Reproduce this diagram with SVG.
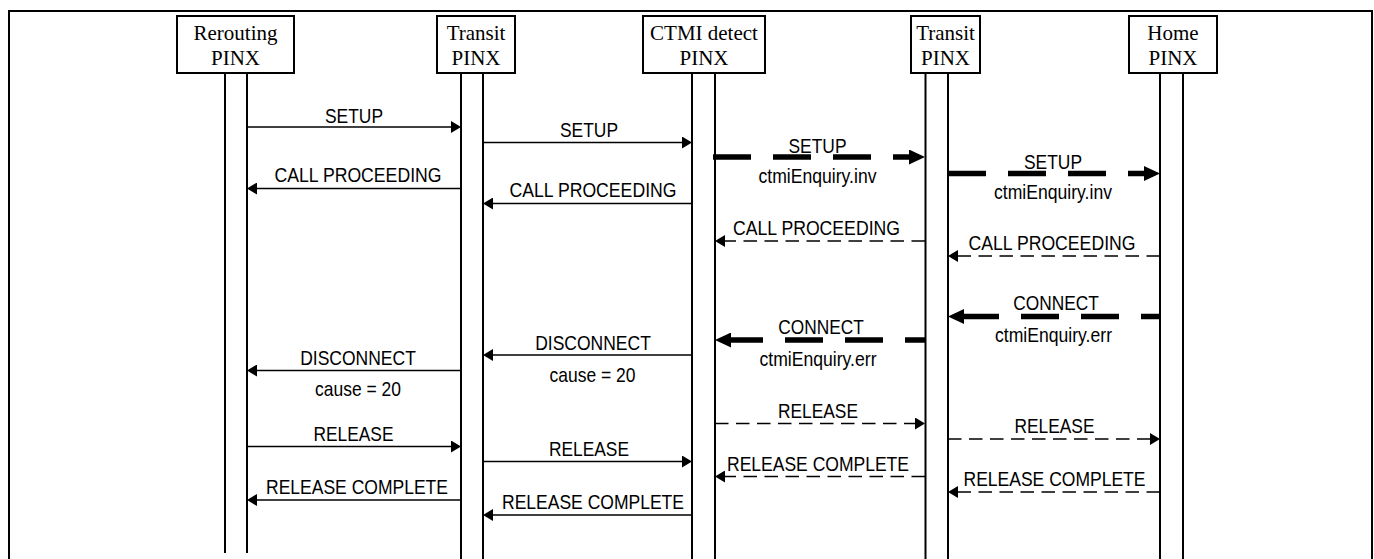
<svg xmlns="http://www.w3.org/2000/svg" width="1374" height="559" viewBox="0 0 1374 559">
<style>
.box{fill:#fff;stroke:#000;stroke-width:2}
.life{stroke:#000;stroke-width:2;fill:none}
.frame{stroke:#000;stroke-width:2;fill:none}
.nt{font-family:"Liberation Serif","Times New Roman",serif;font-size:21px;text-anchor:middle;fill:#000}
.ml{font-family:"Liberation Sans Narrow","Arial Narrow","Liberation Sans",Arial,sans-serif;font-size:21px;text-anchor:middle;fill:#000}
.msg{stroke:#000;stroke-width:1.5;fill:none;marker-end:url(#ah)}
.dsh{stroke-dasharray:13.5 7.5}
.thk{stroke:#000;stroke-width:5.5;fill:none;stroke-dasharray:38 22;marker-end:url(#ahT)}
</style>
<defs>
<marker id="ah" markerUnits="userSpaceOnUse" markerWidth="10" markerHeight="12" refX="0" refY="6" orient="auto" viewBox="0 0 10 12"><path d="M0,0 L10,6 L0,12 Z" fill="#000"/></marker>
<marker id="ahT" markerUnits="userSpaceOnUse" markerWidth="16" markerHeight="15" refX="0" refY="7.5" orient="auto" viewBox="0 0 16 15"><path d="M0,0 L16,7.5 L0,15 Z" fill="#000"/></marker>
</defs>
<rect width="1374" height="559" fill="#fff"/>
<g id="frame">
<path class="frame" d="M9,559 V11 H1372 V559"/>
</g>
<g id="node-rerouting">
<path class="life" d="M225,73 V553 M247,73 V553"/>
<rect class="box" x="177" y="16" width="117" height="57"/>
<text class="nt" x="235.5" y="40">Rerouting</text>
<text class="nt" x="235.5" y="65">PINX</text>
</g>
<g id="node-transit1">
<path class="life" d="M461,73 V559 M483,73 V559"/>
<rect class="box" x="437" y="16" width="78" height="57"/>
<text class="nt" x="476" y="40">Transit</text>
<text class="nt" x="476" y="65">PINX</text>
</g>
<g id="node-ctmi">
<path class="life" d="M692,73 V559 M715,73 V559"/>
<rect class="box" x="643" y="16" width="122" height="57"/>
<text class="nt" x="704" y="40">CTMI detect</text>
<text class="nt" x="704" y="65">PINX</text>
</g>
<g id="node-transit2">
<path class="life" d="M925.5,73 V559 M948,73 V559"/>
<rect class="box" x="911" y="16" width="69" height="57"/>
<text class="nt" x="945.5" y="40">Transit</text>
<text class="nt" x="945.5" y="65">PINX</text>
</g>
<g id="node-home">
<path class="life" d="M1160,73 V559 M1183,73 V559"/>
<rect class="box" x="1129" y="16" width="88" height="57"/>
<text class="nt" x="1173" y="40">Home</text>
<text class="nt" x="1173" y="65">PINX</text>
</g>
<g id="connectors">
<path class="msg" d="M247,127 H451"/>
<path class="msg" d="M483,142.5 H682"/>
<path class="thk" d="M713,157 H909"/>
<path class="thk" d="M948,173.5 H1144"/>
<path class="msg" d="M461,188.5 H257"/>
<path class="msg" d="M692,203.5 H493"/>
<path class="msg dsh" d="M925,241 H725"/>
<path class="msg dsh" d="M1160,256 H958"/>
<path class="thk" style="stroke-dashoffset:19" d="M1160,316.5 H964"/>
<path class="thk" style="stroke-dashoffset:18" d="M925,340 H731"/>
<path class="msg" d="M692,355 H493"/>
<path class="msg" d="M461,370.5 H257"/>
<path class="msg dsh" d="M715,423.5 H915"/>
<path class="msg dsh" d="M948,439 H1150"/>
<path class="msg" d="M247,446.5 H451"/>
<path class="msg" d="M483,461.5 H682"/>
<path class="msg dsh" d="M925,476.5 H725"/>
<path class="msg dsh" d="M1160,492 H958"/>
<path class="msg" d="M461,500 H257"/>
<path class="msg" d="M692,515 H493"/>
<g id="labels">
<text class="ml" x="354" y="122.5" textLength="58" lengthAdjust="spacingAndGlyphs">SETUP</text>
<text class="ml" x="589" y="137" textLength="58" lengthAdjust="spacingAndGlyphs">SETUP</text>
<text class="ml" x="817.5" y="153" textLength="58" lengthAdjust="spacingAndGlyphs">SETUP</text>
<text class="ml" x="817.5" y="183" textLength="118" lengthAdjust="spacingAndGlyphs">ctmiEnquiry.inv</text>
<text class="ml" x="1053" y="168.5" textLength="58" lengthAdjust="spacingAndGlyphs">SETUP</text>
<text class="ml" x="1053" y="199" textLength="118" lengthAdjust="spacingAndGlyphs">ctmiEnquiry.inv</text>
<text class="ml" x="358" y="181.5" textLength="167" lengthAdjust="spacingAndGlyphs">CALL PROCEEDING</text>
<text class="ml" x="593" y="196.5" textLength="167" lengthAdjust="spacingAndGlyphs">CALL PROCEEDING</text>
<text class="ml" x="816.5" y="235" textLength="167" lengthAdjust="spacingAndGlyphs">CALL PROCEEDING</text>
<text class="ml" x="1052" y="250" textLength="167" lengthAdjust="spacingAndGlyphs">CALL PROCEEDING</text>
<text class="ml" x="1056" y="310" textLength="85.5" lengthAdjust="spacingAndGlyphs">CONNECT</text>
<text class="ml" x="1053.5" y="342" textLength="117" lengthAdjust="spacingAndGlyphs">ctmiEnquiry.err</text>
<text class="ml" x="821" y="334" textLength="85.5" lengthAdjust="spacingAndGlyphs">CONNECT</text>
<text class="ml" x="818" y="366" textLength="117" lengthAdjust="spacingAndGlyphs">ctmiEnquiry.err</text>
<text class="ml" x="593" y="350" textLength="115.7" lengthAdjust="spacingAndGlyphs">DISCONNECT</text>
<text class="ml" x="592.5" y="381.5" textLength="86" lengthAdjust="spacingAndGlyphs">cause = 20</text>
<text class="ml" x="358" y="365" textLength="115.7" lengthAdjust="spacingAndGlyphs">DISCONNECT</text>
<text class="ml" x="358" y="396" textLength="86" lengthAdjust="spacingAndGlyphs">cause = 20</text>
<text class="ml" x="818" y="418" textLength="80" lengthAdjust="spacingAndGlyphs">RELEASE</text>
<text class="ml" x="1054.5" y="433" textLength="80" lengthAdjust="spacingAndGlyphs">RELEASE</text>
<text class="ml" x="353.5" y="441" textLength="80" lengthAdjust="spacingAndGlyphs">RELEASE</text>
<text class="ml" x="589" y="455.5" textLength="80" lengthAdjust="spacingAndGlyphs">RELEASE</text>
<text class="ml" x="818" y="470.5" textLength="182" lengthAdjust="spacingAndGlyphs">RELEASE COMPLETE</text>
<text class="ml" x="1054.5" y="486" textLength="182" lengthAdjust="spacingAndGlyphs">RELEASE COMPLETE</text>
<text class="ml" x="357" y="494" textLength="182" lengthAdjust="spacingAndGlyphs">RELEASE COMPLETE</text>
<text class="ml" x="593" y="508.5" textLength="182" lengthAdjust="spacingAndGlyphs">RELEASE COMPLETE</text>
</g>
</g>
</svg>
